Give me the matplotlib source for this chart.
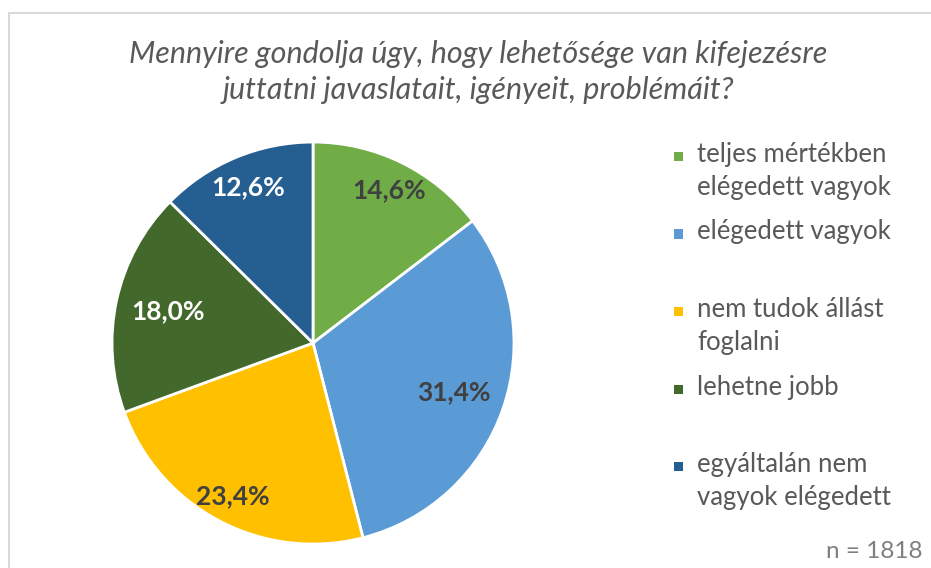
import matplotlib.pyplot as plt
from matplotlib.patches import Rectangle
import numpy as np

plt.rcParams['font.family'] = ['Lato', 'DejaVu Sans']

title = "Mennyire gondolja úgy, hogy lehetősége van kifejezésre\njuttatni javaslatait, igényeit, problémáit?"
categories = ["teljes mértékben\nelégedett vagyok",
              "elégedett vagyok",
              "nem tudok állást\nfoglalni",
              "lehetne jobb",
              "egyáltalán nem\nvagyok elégedett"]
values = [14.6, 31.4, 23.4, 18.0, 12.6]
colors = ['#70AD47', '#5B9BD5', '#FFC000', '#43682B', '#255E91']
label_colors = ['#404040', '#404040', '#404040', 'white', 'white']
label_r = [0.85, 0.74, 0.86, 0.74, 0.84]
n_text = "n = 1818"

gray = '#595959'

fig = plt.figure(figsize=(9.31, 5.68), dpi=100)

# light frame like the excel chart area
fig.patches.append(Rectangle((8.5 / 931, -0.1), 1.2, (568 - 13) / 568 + 0.1,
                             transform=fig.transFigure, fill=False,
                             edgecolor='#d9d9d9', linewidth=1.5))

ax = fig.add_axes([0.1203, 0.0422, 0.4318, 0.7077])
wedges, _ = ax.pie(values, colors=colors, startangle=90, counterclock=False,
                   wedgeprops=dict(edgecolor='white', linewidth=2))
ax.set_xlim(-1.0, 1.0)
ax.set_ylim(-1.0, 1.0)
ax.set_aspect('equal')
ax.axis('off')

# data labels inside slices
for w, v, r, c in zip(wedges, values, label_r, label_colors):
    mid = np.deg2rad((w.theta1 + w.theta2) / 2)
    ax.text(r * np.cos(mid), r * np.sin(mid), "{:.1f}%".format(v).replace('.', ','),
            ha='center', va='center', fontsize=19, fontweight='bold', color=c)

fig.text(478 / 931, 1 - 72 / 568, title, ha='center', va='center',
         fontsize=22, style='italic', color=gray, linespacing=1.38)

# legend, each entry gets a two-line slot as in the original
slot_top = 142
slot_h = 77.5
for i, (lab, col) in enumerate(zip(categories, colors)):
    y = slot_top + i * slot_h
    fig.patches.append(Rectangle((674 / 931, 1 - (y + 19) / 568), 9 / 931, 9 / 568,
                                 transform=fig.transFigure, facecolor=col,
                                 edgecolor='none'))
    fig.text(697 / 931, 1 - y / 568, lab, ha='left', va='top', fontsize=18.5,
             color=gray, linespacing=1.42)

fig.text(922 / 931, 1 - 551 / 568, n_text, ha='right', va='center',
         fontsize=17.5, color='#7f7f7f')

fig.savefig('out.png', dpi=100)
